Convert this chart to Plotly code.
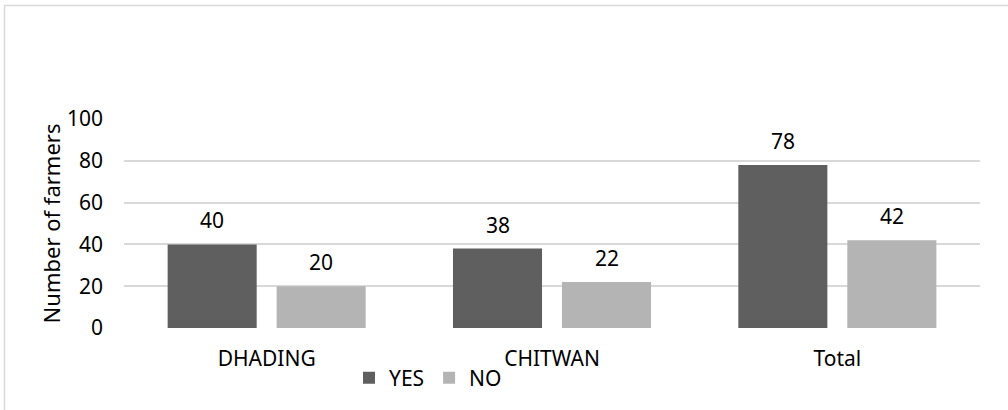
import plotly.graph_objects as go

categories = ["DHADING", "CHITWAN", "Total"]
yes_values = [40, 38, 78]
no_values = [20, 22, 42]
series_names = ["YES", "NO"]
y_ticks = [0, 20, 40, 60, 80, 100]

FONT = "Noto Sans"
FS = 21
W, H = 1008, 410
L, R, T, B = 124, 28, 119, 82
pw = W - L - R
ph = H - T - B

fig = go.Figure()
fig.add_trace(go.Bar(x=categories, y=yes_values, name=series_names[0],
                     marker=dict(color="#5f5f5f", line=dict(width=0))))
fig.add_trace(go.Bar(x=categories, y=no_values, name=series_names[1],
                     marker=dict(color="#b4b4b4", line=dict(width=0))))

annotations = []
slot_shift = 54.5
for vals, sh in ((yes_values, -slot_shift), (no_values, slot_shift)):
    for c, v in zip(categories, vals):
        annotations.append(dict(x=c, y=v, text=str(v), showarrow=False,
                                xshift=sh, yshift=24, yanchor="middle",
                                font=dict(family=FONT, size=FS, color="#000000")))

def px2x(px):
    return (px - L) / pw

def px2y(py):
    return (T + ph - py) / ph

shapes = [dict(type="rect", xref="paper", yref="paper",
               x0=px2x(4.5), x1=px2x(1015), y0=px2y(5.5), y1=px2y(420),
               line=dict(color="#d9d9d9", width=1.5), fillcolor="rgba(0,0,0,0)",
               layer="below")]

fig.update_layout(
    width=W, height=H,
    margin=dict(l=L, r=R, t=T, b=B, pad=0),
    paper_bgcolor="white", plot_bgcolor="white",
    barmode="group", bargap=0.236, bargroupgap=0.183,
    font=dict(family=FONT, size=FS, color="#000000"),
    showlegend=True,
    legend=dict(orientation="h", x=px2x(428), y=px2y(378), xanchor="center", yanchor="middle",
                font=dict(family=FONT, size=FS), itemwidth=30, tracegroupgap=0,
                bgcolor="rgba(0,0,0,0)"),
    xaxis=dict(showgrid=False, showline=False, zeroline=False, ticks="",
               ticklabelstandoff=16, tickfont=dict(family=FONT, size=FS)),
    yaxis=dict(range=[0, 100], tickvals=y_ticks, showgrid=True, gridcolor="#d9d9d9",
               gridwidth=1.5, zeroline=False, showline=False, ticks="",
               ticklabelstandoff=20, tickfont=dict(family=FONT, size=FS),
               title=dict(text="Number of farmers", font=dict(family=FONT, size=22), standoff=0)),
    annotations=annotations,
    shapes=shapes,
)

fig.write_html("out.html")
